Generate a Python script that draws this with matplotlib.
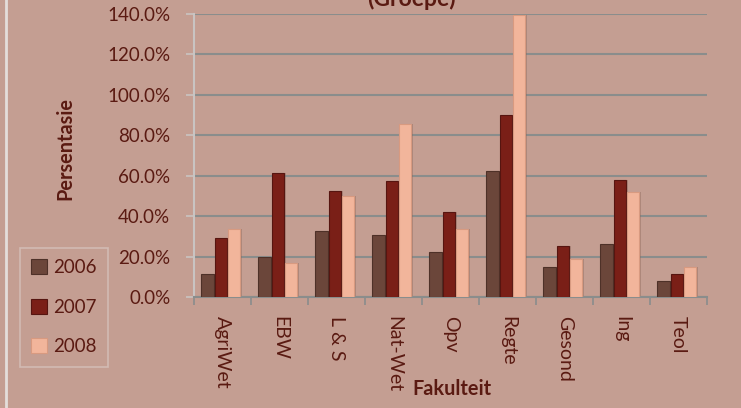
import numpy as np
import matplotlib.pyplot as plt
from matplotlib.lines import Line2D

# data (percent)
fakulteite = ['AgriWet', 'EBW', 'L & S', 'Nat-Wet', 'Opv', 'Regte', 'Gesond', 'Ing', 'Teol']
jare = ['2006', '2007', '2008']
v2006 = [11.3, 20.0, 32.5, 30.7, 22.1, 62.2, 14.9, 26.0, 7.9]
v2007 = [29.4, 61.2, 52.5, 57.4, 42.2, 89.9, 25.3, 57.9, 11.3]
v2008 = [33.4, 16.7, 50.0, 85.8, 33.5, 139.5, 19.0, 52.1, 14.9]
yticks = [0, 20, 40, 60, 80, 100, 120, 140]

bg = '#c49e92'
txt = '#5a1a12'
cols = ['#6b463a', '#7a1f17', '#f2b59b']
edges = ['#4e3128', '#561510', '#d89a80']

plt.rcParams['font.family'] = ['Lato', 'DejaVu Sans']

fig = plt.figure(figsize=(7.41, 4.08), dpi=100, facecolor=bg)
ax = fig.add_axes([194/741, 1-297/408, 513/741, 283/408])
ax.set_facecolor(bg)

x = np.arange(len(fakulteite))
w = 0.22
for k, vals in enumerate([v2006, v2007, v2008]):
    pos = x + (k - 1) * 0.235 - 0.03
    # soft shadow
    ax.bar(pos + 0.035, vals, w, color='#7d5a50', alpha=0.35, zorder=2, linewidth=0)
    ax.bar(pos, vals, w, color=cols[k], edgecolor=edges[k], linewidth=0.8,
           zorder=3, label=jare[k])

ax.set_xlim(-0.5, len(fakulteite) - 0.5)
ax.set_ylim(0, 140)
ax.set_yticks(yticks)
ax.set_yticklabels(['%.1f%%' % t for t in yticks])
ax.yaxis.grid(True, color='#8a8d8c', linewidth=1.5, zorder=1)
ax.set_axisbelow(True)

ax.set_xticks(x)
ax.set_xticklabels(fakulteite, rotation=-90, va='top', ha='center')
ax.set_xticks(np.arange(-0.5, len(fakulteite)), minor=True)
ax.tick_params(axis='x', which='major', length=0, pad=14, labelsize=14, labelcolor=txt)
ax.tick_params(axis='x', which='minor', length=6, width=1.2, color='#8a8d8c')
ax.tick_params(axis='y', length=6, width=1.2, color='#c9c4c2', pad=11,
               labelsize=13.5, labelcolor=txt)

for s in ['top', 'right']:
    ax.spines[s].set_visible(False)
ax.spines['left'].set_color('#c9c4c2')
ax.spines['left'].set_linewidth(1.5)
ax.spines['bottom'].set_color('#8a8d8c')
ax.spines['bottom'].set_linewidth(1.5)

fig.text(65/741, 1-149/408, 'Persentasie', fontsize=14.3, fontweight='bold',
         color=txt, ha='center', va='center', rotation=90)
fig.text(452/741, 1-389/408, 'Fakulteit', fontsize=14.3, fontweight='bold',
         color=txt, ha='center', va='center')

# title, mostly cut off at the top edge (as in the reference)
fig.text(411/741, 1-6/408, '(Groepe)', fontsize=16.5, fontweight='bold',
         color=txt, ha='center', va='baseline')

leg = fig.legend(loc='upper left', bbox_to_anchor=(20/741, 1-248/408),
                 borderaxespad=0, fontsize=13.5, frameon=True, fancybox=False,
                 handlelength=0.85, handleheight=0.85, handletextpad=0.3,
                 labelspacing=1.2, borderpad=0.6)
leg.get_frame().set_facecolor(bg)
leg.get_frame().set_edgecolor('#d6c2bc')
leg.get_frame().set_linewidth(1.2)
for t in leg.get_texts():
    t.set_color(txt)

# light frame line at the left edge
fig.add_artist(Line2D([6/741, 6/741], [0, 1], transform=fig.transFigure,
                      color='#e4dedb', linewidth=2))

fig.savefig('out.png', dpi=100, facecolor=bg)
